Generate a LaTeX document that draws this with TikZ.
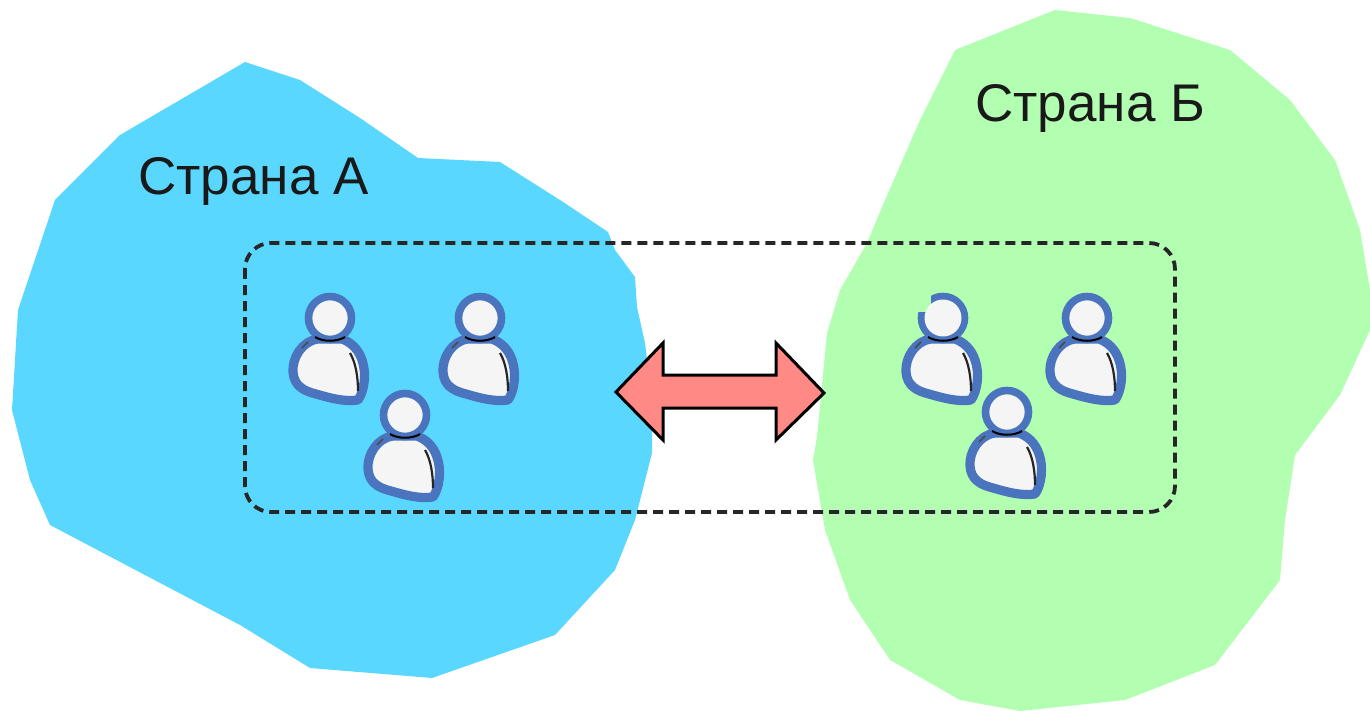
\documentclass[tikz,border=0pt]{standalone}
\usepackage{fontspec}
\setmainfont{Liberation Sans}
\definecolor{blobA}{HTML}{5AD7FF}
\definecolor{blobB}{HTML}{B2FFB2}
\definecolor{arrowfill}{HTML}{FF8A85}
\definecolor{outl}{HTML}{4A74BE}
\definecolor{bodyfill}{HTML}{F5F5F5}
\tikzset{
  blob/.style={draw=none},
  label text/.style={font=\fontsize{26.5}{30}\selectfont,text=black!90,anchor=base west,inner sep=0pt},
  pic person/.pic={
    \path[fill=bodyfill,draw=outl,line width=4.6pt,line join=round]
      (-12,21) .. controls (-28,23) and (-38,40) .. (-37,54)
      .. controls (-36,68) and (-26,73) .. (-14,76)
      .. controls (0,80) and (14,84) .. (28,82)
      .. controls (34,74) and (37,56) .. (32,42)
      .. controls (28,30) and (20,24) .. (12,21) -- cycle;
    \path[fill=bodyfill,draw=outl,line width=3.8pt] (0,0) circle (21.5);
    \draw[black,line width=1pt] (-15,19) .. controls (-7,24) and (7,24) .. (15,19);
    \draw[black!85,line width=1.1pt] (20,35) .. controls (26,45) and (28,60) .. (28,73);
    \draw[black!70,line width=0.8pt] (-28,30) -- (-22,24);
  }
}
\begin{document}
\begin{tikzpicture}[x=0.5pt,y=-0.5pt]
\useasboundingbox (0,0) rectangle (1370,711);
\fill[white] (0,0) rectangle (1370,711);
\fill[blobA,blob] (245,62) -- (300,80) -- (360,118) -- (418,158) -- (500,162) -- (560,200) -- (608,232) -- (615,250) -- (635,277) -- (637,307) -- (645,343) -- (652,400) -- (652,453) -- (635,520) -- (615,570) -- (555,635) -- (432,678) -- (310,668) -- (240,625) -- (50,525) -- (30,480) -- (12,410) -- (18,310) -- (55,200) -- (120,135) -- cycle;
\fill[blobB,blob] (1055,10) -- (1130,18) -- (1230,50) -- (1290,100) -- (1335,160) -- (1360,230) -- (1370,290) -- (1370,330) -- (1340,395) -- (1295,455) -- (1285,520) -- (1280,580) -- (1215,665) -- (1125,700) -- (1020,711) -- (960,700) -- (890,660) -- (850,600) -- (825,530) -- (813,460) -- (817,437) -- (827,333) -- (840,290) -- (867,243) -- (885,200) -- (920,120) -- (955,50) -- cycle;
\draw[black!85,line width=1.9pt,dash pattern=on 5pt off 3pt,rounded corners=13pt] (245,243) rectangle (1175,512);
\node[label text] (labelA) at (138,195) {Страна А};
\node[label text] (labelB) at (975,122) {Страна Б};
\path (330,318) pic {pic person};
\path (480,318) pic {pic person};
\path (405,415) pic {pic person};
\path (943,318) pic {pic person};
\path (1087,318) pic {pic person};
\path (1007,412) pic {pic person};
% gap in the outline of the head
\fill[blobB] (916,290) rectangle (931,312);
\fill[bodyfill] (943,318) circle (18.5);
\draw[arrowfill!0!black,fill=arrowfill,line width=1.5pt,line join=miter]
  (616,392) -- (663,343) -- (663,375) -- (776,375) -- (776,343) -- (824,393) -- (776,440) -- (776,408) -- (663,408) -- (663,440) -- cycle;
\end{tikzpicture}
\end{document}
